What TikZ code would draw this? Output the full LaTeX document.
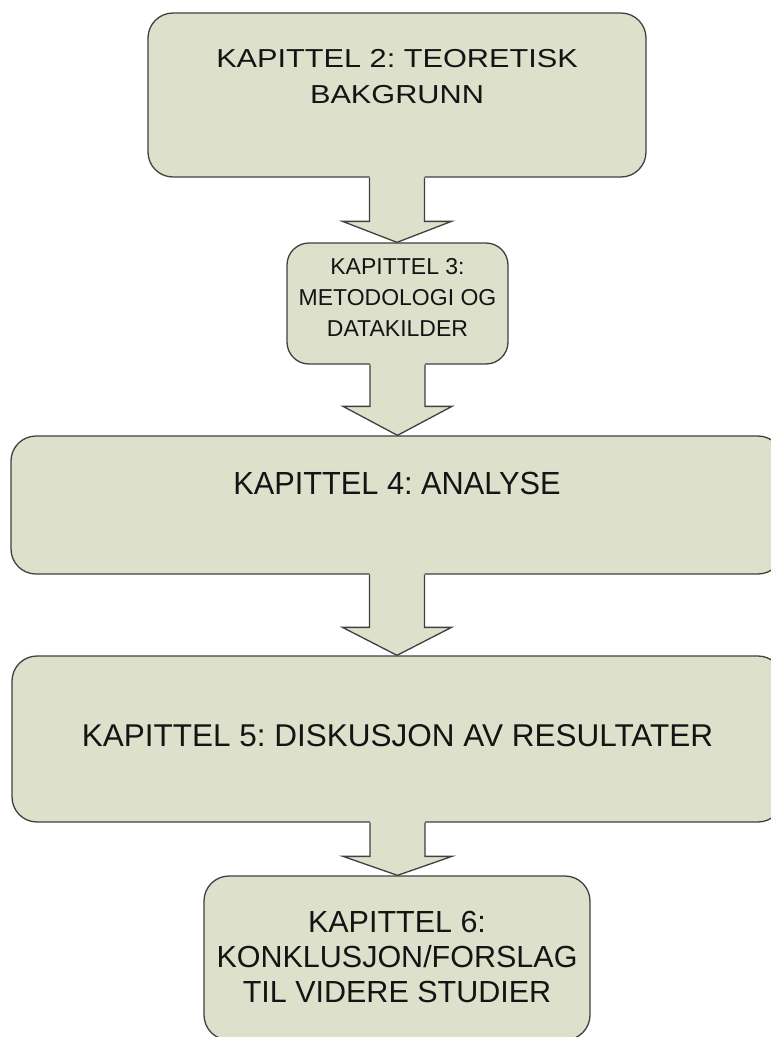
\documentclass[tikz,border=0pt]{standalone}
\usepackage{fontspec}
\setmainfont{Liberation Sans}
\newfontfamily\widesans{Liberation Sans}[FakeStretch=1.18]
\newfontfamily\narrowsans{Liberation Sans}[FakeStretch=0.96]
\usetikzlibrary{calc}
\definecolor{boxfill}{RGB}{221,224,203}
\definecolor{boxline}{RGB}{64,64,64}
\definecolor{inktext}{RGB}{20,20,20}

% Block arrow from the bottom of one chapter box to the top of the next.
% #1 source node, #2 target node, #3 length of the arrow head
\newcommand\chapterflow[3]{%
  \fill[boxfill] let \p1=(#1.south), \p2=(#2.north) in
    (\x1-27.5pt,\y1+2pt) -- (\x1-27.5pt,\y2+#3) -- (\x1-54.5pt,\y2+#3)
    -- (\x1,\y2) -- (\x1+54.5pt,\y2+#3) -- (\x1+27.5pt,\y2+#3)
    -- (\x1+27.5pt,\y1+2pt) -- cycle;
  \draw[flowline] let \p1=(#1.south), \p2=(#2.north) in
    (\x1-27.5pt,\y1) -- (\x1-27.5pt,\y2+#3) -- (\x1-54.5pt,\y2+#3)
    -- (\x1,\y2) -- (\x1+54.5pt,\y2+#3) -- (\x1+27.5pt,\y2+#3)
    -- (\x1+27.5pt,\y1);
}

\begin{document}
\frenchspacing
\begin{tikzpicture}[x=1pt,y=-1pt,
  chapter/.style={rectangle, draw=boxline, line width=1.3pt, fill=boxfill,
    rounded corners=25pt, inner sep=0pt},
  caption/.style={inner sep=0pt, anchor=north, align=center, text=inktext},
  flowline/.style={draw=boxline, line width=1.3pt, line join=miter},
]
\useasboundingbox (0,0) rectangle (771,1037);
\clip (0,0) rectangle (771,1037);
\fill[white] (0,0) rectangle (771,1037);

% chapter boxes
\node[chapter, minimum width=498pt, minimum height=164pt] (b1) at (397,95) {};
\node[chapter, minimum width=221pt, minimum height=121pt, rounded corners=22pt] (b2) at (397.5,303.5) {};
\node[chapter, minimum width=772pt, minimum height=138pt] (b3) at (397,505) {};
\node[chapter, minimum width=771pt, minimum height=166pt] (b4) at (397.5,739) {};
\node[chapter, minimum width=386pt, minimum height=164pt] (b5) at (397,958) {};

% connecting block arrows
\chapterflow{b1}{b2}{21pt}
\chapterflow{b2}{b3}{29pt}
\chapterflow{b3}{b4}{28pt}
\chapterflow{b4}{b5}{19pt}

% chapter titles
\node[caption, font=\widesans\fontsize{26}{36}\selectfont] (t1)
  at ($(b1.north)+(0,36.5)$) {KAPITTEL 2: TEORETISK\\BAKGRUNN};
\node[caption, font=\fontsize{23}{31}\selectfont] (t2)
  at ($(b2.north)+(0,16)$) {KAPITTEL 3:\\METODOLOGI OG\\DATAKILDER};
\node[caption, font=\narrowsans\fontsize{32}{36}\selectfont] (t3)
  at ($(b3.north)+(0,37)$) {KAPITTEL 4: ANALYSE};
\node[caption, font=\fontsize{31.5}{36}\selectfont] (t4)
  at ($(b4.north)+(0,69)$) {KAPITTEL 5: DISKUSJON AV RESULTATER};
\node[caption, font=\fontsize{30.5}{35}\selectfont] (t5)
  at ($(b5.north)+(0,35.7)$) {KAPITTEL 6:\\KONKLUSJON/FORSLAG\\TIL VIDERE STUDIER};
\end{tikzpicture}
\end{document}
